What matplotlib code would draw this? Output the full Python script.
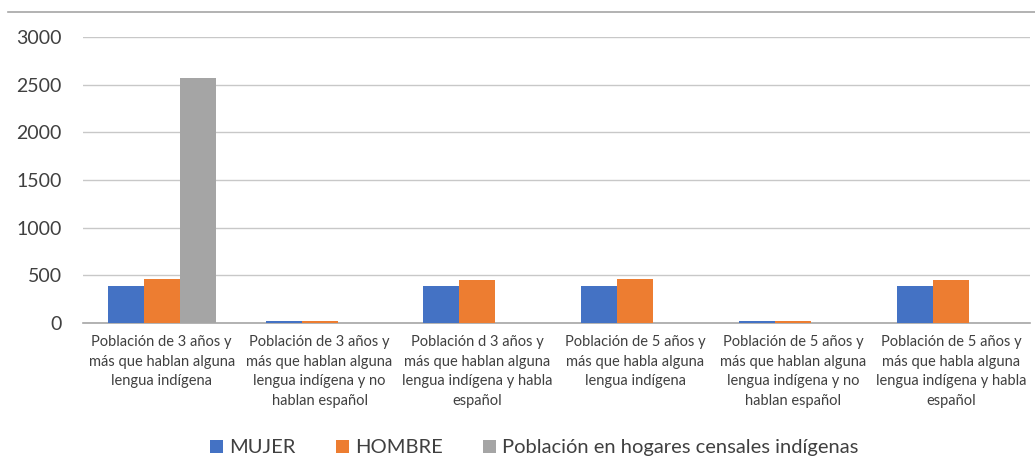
import numpy as np
import matplotlib.pyplot as plt
from matplotlib.lines import Line2D

plt.rcParams['font.family'] = ['Lato', 'DejaVu Sans']

categories = [
    'Población de 3 años y\nmás que hablan alguna\nlengua indígena',
    'Población de 3 años y\nmás que hablan alguna\nlengua indígena y no\nhablan español',
    'Población d 3 años y\nmás que hablan alguna\nlengua indígena y habla\nespañol',
    'Población de 5 años y\nmás que habla alguna\nlengua indígena',
    'Población de 5 años y\nmás que hablan alguna\nlengua indígena y no\nhablan español',
    'Población de 5 años y\nmás que habla alguna\nlengua indígena y habla\nespañol',
]
mujer = [391, 25, 391, 391, 22, 391]
hombre = [458, 24, 447, 458, 22, 447]
hogares = [2573, 0, 0, 0, 0, 0]

series_names = ['MUJER', 'HOMBRE', 'Población en hogares censales indígenas']
colors = ['#4472C4', '#ED7D31', '#A5A5A5']

fig = plt.figure(figsize=(10.35, 4.58), dpi=100)
ax = fig.add_axes([0.080, 0.295, 0.915, 0.624])

x = np.arange(len(categories))
w = 0.228
for i, (vals, name, c) in enumerate(zip([mujer, hombre, hogares], series_names, colors)):
    ax.bar(x + (i - 1) * w, vals, w, color=c, label=name, zorder=3)

ax.set_xlim(-0.5, len(categories) - 0.5)
ax.set_ylim(0, 3000)
ax.set_yticks(range(0, 3001, 500))
ax.set_xticks(x)
ax.set_xticklabels(categories, fontsize=10.5, color='#404040', linespacing=1.5)
ax.tick_params(axis='y', labelsize=14, colors='#404040', length=0, pad=15)
ax.tick_params(axis='x', length=0, pad=9)
ax.grid(axis='y', color='#c8c8c8', linewidth=1, zorder=0)
for s in ['top', 'right', 'left']:
    ax.spines[s].set_visible(False)
ax.spines['bottom'].set_color('#a6a6a6')
ax.spines['bottom'].set_linewidth(1.2)

# top border line of chart area
fig.add_artist(Line2D([8 / 1035, 1], [1 - 12 / 458, 1 - 12 / 458], color='#a6a6a6', linewidth=1.2))

fig.legend(loc='center', bbox_to_anchor=(0.516, 0.022), ncol=3, frameon=False,
           fontsize=14.5, handlelength=0.65, handleheight=0.65, handletextpad=0.3,
           columnspacing=2.0, labelcolor='#404040')

fig.savefig('out.png', dpi=100)
